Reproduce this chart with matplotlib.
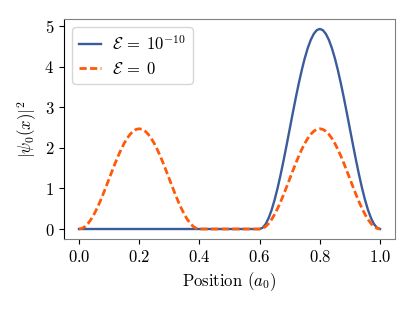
import matplotlib
matplotlib.use("Agg")
import matplotlib.pyplot as plt
import numpy as np

plt.rcParams['font.family'] = 'serif'
plt.rcParams['font.serif'] = ['cmr10']
plt.rcParams['mathtext.fontset'] = 'cm'
plt.rcParams['axes.formatter.use_mathtext'] = True
plt.rcParams['font.size'] = 12

# Sample positions (in units of a0) inside left well, barrier and right well
x_left = list(np.round(np.linspace(0.0, 0.4, 41), 3))
x_mid = [0.45, 0.50, 0.55]
x_right = list(np.round(np.linspace(0.6, 1.0, 41), 3))

# E = 0 : symmetric double-well ground state
orange_left = [0, 0.015, 0.060, 0.135, 0.236, 0.362, 0.509, 0.674, 0.853, 1.042,
               1.235, 1.428, 1.617, 1.796, 1.961, 2.108, 2.234, 2.335, 2.410, 2.455,
               2.47,
               2.455, 2.410, 2.335, 2.234, 2.108, 1.961, 1.796, 1.617, 1.428, 1.235,
               1.042, 0.853, 0.674, 0.509, 0.362, 0.236, 0.135, 0.060, 0.015, 0]
orange_mid = [0, 0, 0]
orange_right = [0, 0.015, 0.060, 0.135, 0.236, 0.362, 0.509, 0.674, 0.853, 1.042,
                1.235, 1.428, 1.617, 1.796, 1.961, 2.108, 2.234, 2.335, 2.410, 2.455,
                2.47,
                2.455, 2.410, 2.335, 2.234, 2.108, 1.961, 1.796, 1.617, 1.428, 1.235,
                1.042, 0.853, 0.674, 0.509, 0.362, 0.236, 0.135, 0.060, 0.015, 0]

# E = 1e-10 : localized in the right well
blue_left = [0] * 41
blue_mid = [0, 0, 0]
blue_right = [0, 0.030, 0.121, 0.269, 0.471, 0.722, 1.016, 1.346, 1.703, 2.079,
              2.465, 2.851, 3.227, 3.584, 3.914, 4.208, 4.459, 4.661, 4.809, 4.900,
              4.93,
              4.900, 4.809, 4.661, 4.459, 4.208, 3.914, 3.584, 3.227, 2.851, 2.465,
              2.079, 1.703, 1.346, 1.016, 0.722, 0.471, 0.269, 0.121, 0.030, 0]

x_all = x_left + x_mid + x_right
blue = blue_left + blue_mid + blue_right
orange = orange_left + orange_mid + orange_right

fig = plt.figure(figsize=(4.15, 3.10), dpi=100)
ax = fig.add_axes([0.154, 0.229, 0.798, 0.710])

ax.plot(x_all, blue, color='#3B5B9B', lw=1.7, label=r'$\mathcal{E}\:=\:10^{-10}$')
ax.plot(x_all, orange, color='#FF5A0A', lw=2.0, ls=(0, (2.6, 1.2)),
        label=r'$\mathcal{E}\:=\:0$')

ax.set_xticks([0.0, 0.2, 0.4, 0.6, 0.8, 1.0])
ax.set_yticks([0, 1, 2, 3, 4, 5])
ax.set_xlabel(r'Position ($a_0$)')
ax.set_ylabel(r'$|\psi_0(x)|^2$')

ax.spines['left'].set_color('black')
for s in ['top', 'right', 'bottom']:
    ax.spines[s].set_color('#808080')
ax.tick_params(top=False, right=False)

ax.legend(loc='upper left', handlelength=1.3, handletextpad=0.7)

fig.savefig('out.png', dpi=100)
